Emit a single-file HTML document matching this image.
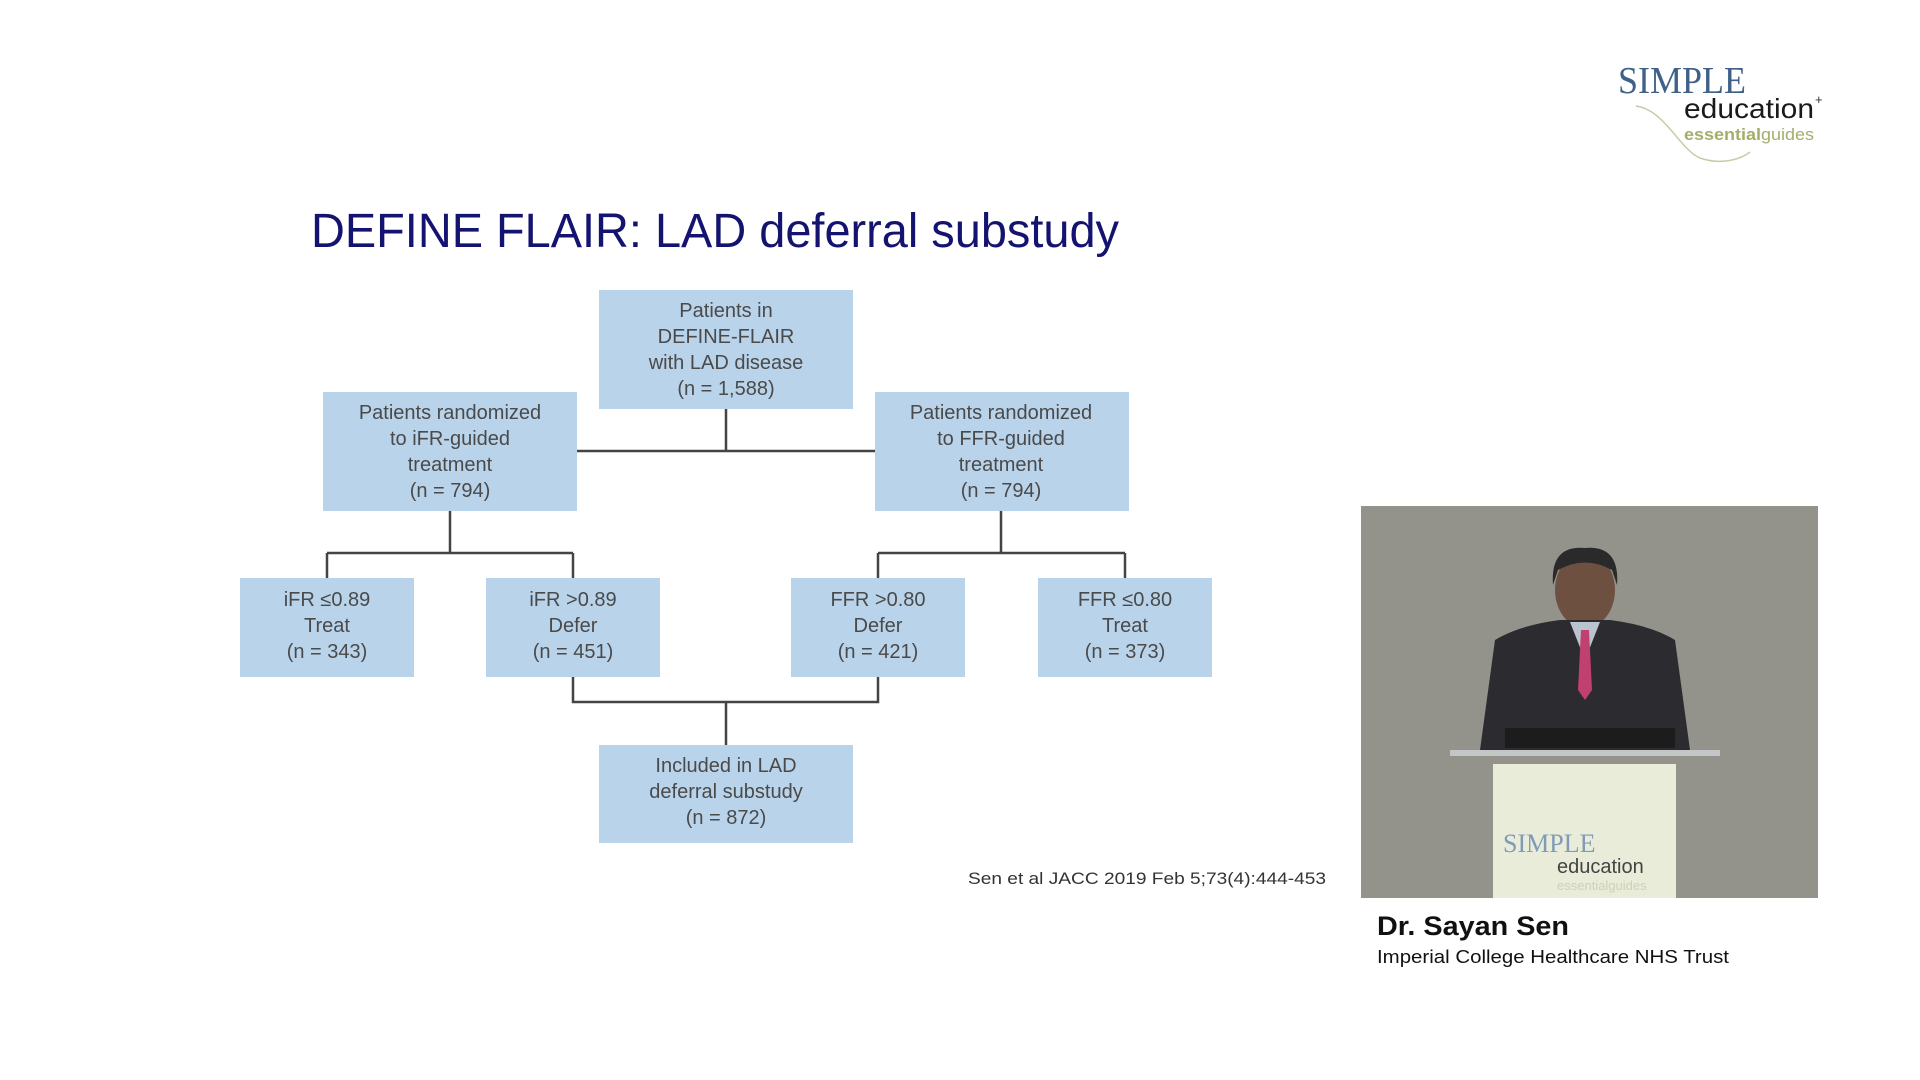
<!DOCTYPE html>
<html><head><meta charset="utf-8"><style>
html,body{margin:0;padding:0;background:#fff;width:1920px;height:1080px;overflow:hidden}
svg{display:block}
</style></head><body>
<svg width="1920" height="1080" viewBox="0 0 1920 1080" font-family="Liberation Sans, sans-serif">
<rect width="1920" height="1080" fill="#fff"/>
<!-- logo -->
<text x="1618" y="93" font-family="Liberation Serif, serif" font-size="38" fill="#3f6088" textLength="128" lengthAdjust="spacingAndGlyphs">SIMPLE</text>
<text x="1684" y="118" font-size="28" fill="#1a1a1a" textLength="130" lengthAdjust="spacingAndGlyphs">education</text>
<text x="1815" y="104" font-size="13" fill="#333">+</text>
<text x="1684" y="140" font-size="17" fill="#a3ae6a" textLength="130" lengthAdjust="spacingAndGlyphs"><tspan font-weight="bold">essential</tspan>guides</text>
<path d="M1636 106 C1665 110 1680 150 1700 158 C1720 165 1740 160 1750 152" fill="none" stroke="#c9cba8" stroke-width="1.5"/>
<!-- title -->
<text x="311" y="247" font-size="48" fill="#141470" textLength="808" lengthAdjust="spacingAndGlyphs">DEFINE FLAIR: LAD deferral substudy</text>
<!-- connectors -->
<g stroke="#444" stroke-width="2.5" fill="none">
<path d="M726 409 V451 M577 451 H875"/>
<path d="M450 511 V553 M327 553 H573 M327 553 V578 M573 553 V578"/>
<path d="M1001 511 V553 M878 553 H1125 M878 553 V578 M1125 553 V578"/>
<path d="M573 677 V702 H878 V677 M726 702 V745"/>
</g>
<g fill="#b9d3ea">
<rect x="599" y="290" width="254" height="119"/>
<rect x="323" y="392" width="254" height="119"/>
<rect x="875" y="392" width="254" height="119"/>
<rect x="240" y="578" width="174" height="99"/>
<rect x="486" y="578" width="174" height="99"/>
<rect x="791" y="578" width="174" height="99"/>
<rect x="1038" y="578" width="174" height="99"/>
<rect x="599" y="745" width="254" height="98"/>
</g>
<g font-size="20" fill="#4a4a4a" text-anchor="middle">
<text x="726" y="317">Patients in</text><text x="726" y="343">DEFINE-FLAIR</text><text x="726" y="369">with LAD disease</text><text x="726" y="395">(n = 1,588)</text>
<text x="450" y="419">Patients randomized</text><text x="450" y="445">to iFR-guided</text><text x="450" y="471">treatment</text><text x="450" y="497">(n = 794)</text>
<text x="1001" y="419">Patients randomized</text><text x="1001" y="445">to FFR-guided</text><text x="1001" y="471">treatment</text><text x="1001" y="497">(n = 794)</text>
<text x="327" y="606">iFR ≤0.89</text><text x="327" y="632">Treat</text><text x="327" y="658">(n = 343)</text>
<text x="573" y="606">iFR &gt;0.89</text><text x="573" y="632">Defer</text><text x="573" y="658">(n = 451)</text>
<text x="878" y="606">FFR &gt;0.80</text><text x="878" y="632">Defer</text><text x="878" y="658">(n = 421)</text>
<text x="1125" y="606">FFR ≤0.80</text><text x="1125" y="632">Treat</text><text x="1125" y="658">(n = 373)</text>
<text x="726" y="772">Included in LAD</text><text x="726" y="798">deferral substudy</text><text x="726" y="824">(n = 872)</text>
</g>
<text x="968" y="884" font-size="17" fill="#333" textLength="358" lengthAdjust="spacingAndGlyphs">Sen et al JACC 2019 Feb 5;73(4):444-453</text>
<!-- video -->
<rect x="1361" y="506" width="457" height="392" fill="#93928b"/>
<!-- speaker -->
<ellipse cx="1585" cy="590" rx="30" ry="38" fill="#6e5040"/>
<path d="M1553 585 Q1550 545 1585 548 Q1620 545 1617 585 L1612 570 Q1585 555 1558 570Z" fill="#2a2a2a"/>
<path d="M1495 640 Q1520 625 1560 620 L1610 620 Q1650 625 1675 640 L1690 750 L1480 750Z" fill="#2c2c30"/>
<path d="M1570 622 L1585 660 L1600 622Z" fill="#b9c4d0"/>
<path d="M1581 630 L1589 630 L1592 690 L1585 700 L1578 690Z" fill="#c04070"/>
<rect x="1505" y="728" width="170" height="20" fill="#1c1c1c"/>
<rect x="1450" y="750" width="270" height="6" fill="#cfd3d4" opacity="0.8"/>
<rect x="1493" y="764" width="183" height="134" fill="#e9ecd8"/>
<text x="1503" y="852" font-family="Liberation Serif, serif" font-size="26" fill="#7f9bb7">SIMPLE</text>
<text x="1557" y="873" font-size="20" fill="#444">education</text>
<text x="1557" y="890" font-size="13" fill="#cfd0b8">essentialguides</text>
<text x="1377" y="935" font-size="27" font-weight="600" fill="#111" textLength="192" lengthAdjust="spacingAndGlyphs">Dr. Sayan Sen</text>
<text x="1377" y="963" font-size="18.5" fill="#111" textLength="352" lengthAdjust="spacingAndGlyphs">Imperial College Healthcare NHS Trust</text>
</svg>
</body></html>
